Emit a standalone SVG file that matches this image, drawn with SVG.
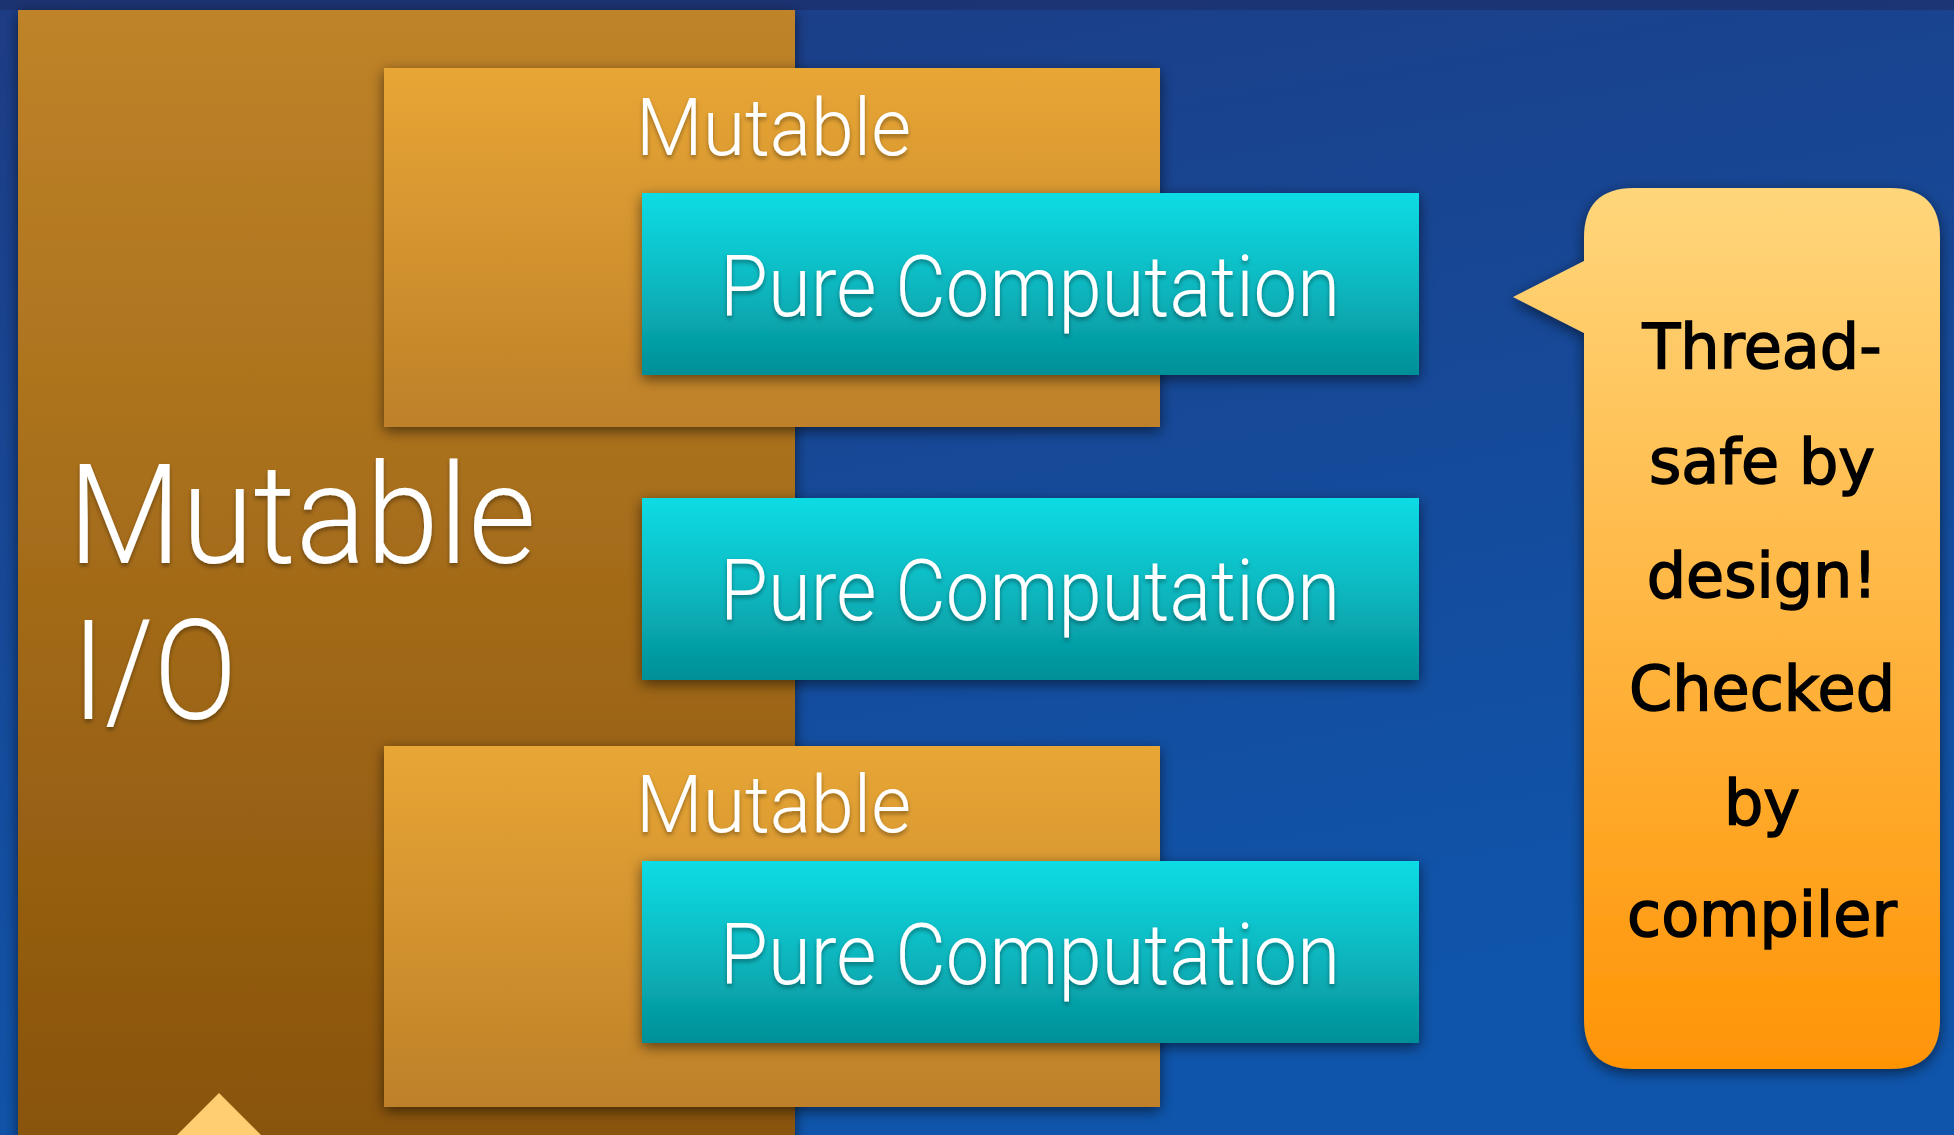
<svg xmlns="http://www.w3.org/2000/svg" width="1954" height="1135" viewBox="0 0 1954 1135">
  <defs>
    <linearGradient id="bg" x1="0" y1="0" x2="0.3" y2="1">
      <stop offset="0" stop-color="#1d3c84"/>
      <stop offset="1" stop-color="#0f55ab"/>
    </linearGradient>
    <linearGradient id="brown" x1="0" y1="0" x2="0" y2="1">
      <stop offset="0" stop-color="#bf8329"/>
      <stop offset="1" stop-color="#885309"/>
    </linearGradient>
    <linearGradient id="mut" x1="0" y1="0" x2="0" y2="1">
      <stop offset="0" stop-color="#e8a635"/>
      <stop offset="1" stop-color="#be8029"/>
    </linearGradient>
    <linearGradient id="pure" x1="0" y1="0" x2="0" y2="1">
      <stop offset="0" stop-color="#11dce4"/>
      <stop offset="0.45" stop-color="#0bbcc4"/>
      <stop offset="1" stop-color="#038f97"/>
    </linearGradient>
    <linearGradient id="bubble" x1="0" y1="0" x2="0" y2="1">
      <stop offset="0" stop-color="#ffd67b"/>
      <stop offset="1" stop-color="#ff9405"/>
    </linearGradient>
    <filter id="shadow" x="-10%" y="-10%" width="120%" height="125%">
      <feDropShadow dx="0" dy="4" stdDeviation="7" flood-color="#000" flood-opacity="0.55"/>
    </filter>
    <filter id="tshadow" x="-5%" y="-20%" width="110%" height="140%">
      <feDropShadow dx="0" dy="3" stdDeviation="2" flood-color="#000" flood-opacity="0.35"/>
    </filter>
  </defs>
  <style>
    .lbl { font-family: Roboto, "Liberation Sans", sans-serif; font-weight: 300; fill: #ffffff; }
    .pc { font-size: 86px; text-anchor: middle; }
    .mut { font-size: 80px; }
    .big { font-size: 140px; }
    .note { font-family: "DejaVu Sans", sans-serif; font-size: 62px; fill: #000; stroke: #000; stroke-width: 1.5; text-anchor: middle; }
  </style>

  <rect x="0" y="0" width="1954" height="1135" fill="url(#bg)"/>
  <rect x="0" y="0" width="1954" height="10" fill="#1c2f6a" opacity="0.7"/>

  <g id="mutable-io">
    <rect x="18" y="10" width="777" height="1140" fill="url(#brown)" filter="url(#shadow)"/>
    <text class="lbl big" x="68" y="563" textLength="468" lengthAdjust="spacingAndGlyphs" filter="url(#tshadow)">Mutable</text>
    <text class="lbl big" x="72" y="719" textLength="165" lengthAdjust="spacingAndGlyphs" filter="url(#tshadow)">I/O</text>
  </g>

  <g id="mutable-1">
    <rect x="384" y="68" width="776" height="359" fill="url(#mut)" filter="url(#shadow)"/>
    <text class="lbl mut" x="636" y="155" textLength="275" lengthAdjust="spacingAndGlyphs" filter="url(#tshadow)">Mutable</text>
  </g>
  <g id="pure-1">
    <rect x="642" y="193" width="777" height="182" fill="url(#pure)" filter="url(#shadow)"/>
    <text class="lbl pc" x="1030" y="316" textLength="620" lengthAdjust="spacingAndGlyphs" filter="url(#tshadow)">Pure Computation</text>
  </g>

  <g id="pure-2">
    <rect x="642" y="498" width="777" height="182" fill="url(#pure)" filter="url(#shadow)"/>
    <text class="lbl pc" x="1030" y="620" textLength="620" lengthAdjust="spacingAndGlyphs" filter="url(#tshadow)">Pure Computation</text>
  </g>

  <g id="mutable-2">
    <rect x="384" y="746" width="776" height="361" fill="url(#mut)" filter="url(#shadow)"/>
    <text class="lbl mut" x="636" y="832" textLength="275" lengthAdjust="spacingAndGlyphs" filter="url(#tshadow)">Mutable</text>
  </g>
  <g id="pure-3">
    <rect x="642" y="861" width="777" height="182" fill="url(#pure)" filter="url(#shadow)"/>
    <text class="lbl pc" x="1030" y="984" textLength="620" lengthAdjust="spacingAndGlyphs" filter="url(#tshadow)">Pure Computation</text>
  </g>

  <g id="pointer-bottom">
    <polygon points="219,1093 266,1140 172,1140" fill="#fdcf72"/>
  </g>

  <g id="callout">
    <path d="M1634,188 H1890 Q1940,188 1940,238 V1019 Q1940,1069 1890,1069 H1634 Q1584,1069 1584,1019 V333 L1513,297 L1584,261 V238 Q1584,188 1634,188 Z" fill="url(#bubble)" filter="url(#shadow)"/>
    <text class="note" x="1762" y="368">Thread-</text>
    <text class="note" x="1762" y="483">safe by</text>
    <text class="note" x="1762" y="597">design!</text>
    <text class="note" x="1762" y="710">Checked</text>
    <text class="note" x="1762" y="824">by</text>
    <text class="note" x="1762" y="936">compiler</text>
  </g>

  <g id="connectors"></g>
</svg>
